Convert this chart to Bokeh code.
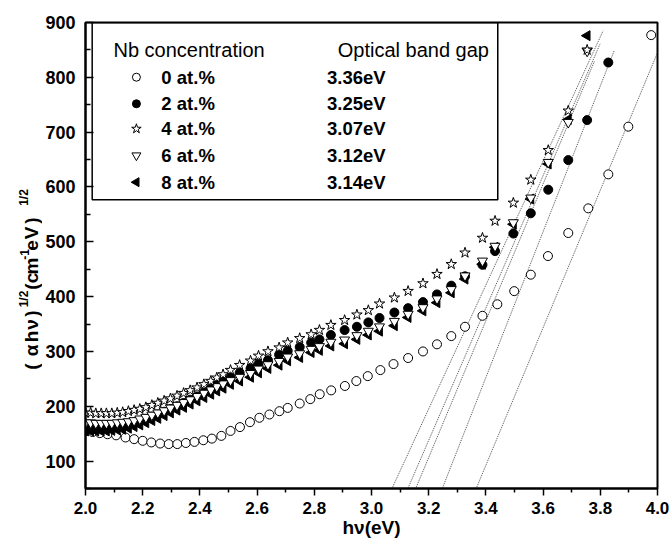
import numpy as np
from bokeh.plotting import figure
from bokeh.layouts import row
from bokeh.models import Range1d, FixedTicker, PrintfTickFormatter, Label, BoxAnnotation
from bokeh.embed import file_html
from bokeh.resources import INLINE

# ---------------- data ----------------
x_0at = [2.000, 2.025, 2.050, 2.077, 2.107, 2.140, 2.170, 2.200, 2.230, 2.261,
         2.291, 2.321, 2.351, 2.381, 2.412, 2.442, 2.475, 2.507, 2.540, 2.575,
         2.608, 2.643, 2.678, 2.707, 2.749, 2.786, 2.819, 2.859, 2.907, 2.947,
         2.987, 3.031, 3.077, 3.128, 3.180, 3.229, 3.279, 3.327, 3.388, 3.440,
         3.499, 3.557, 3.617, 3.688, 3.758, 3.828, 3.898, 3.978]
y_0at = [155, 153, 151, 149, 147, 143, 140, 137, 134, 132,
         131, 131, 133, 135, 138, 141, 146, 155, 162, 171,
         179, 185, 191, 197, 205, 213, 222, 229, 237, 246,
         255, 266, 277, 288, 300, 313, 328, 345, 365, 386,
         410, 440, 474, 516, 561, 623, 710, 877]

x_low = [2.000, 2.018, 2.036, 2.055, 2.073, 2.092, 2.111, 2.130, 2.150, 2.170,
         2.190, 2.211, 2.232, 2.253, 2.275, 2.297, 2.320, 2.343, 2.366, 2.390,
         2.414, 2.438, 2.459]
x_high = [2.481, 2.507, 2.539, 2.577, 2.605, 2.638, 2.677, 2.707, 2.749, 2.789,
          2.818, 2.858, 2.906, 2.949, 2.989, 3.028, 3.080, 3.128, 3.180, 3.229,
          3.279, 3.327, 3.388, 3.432, 3.496, 3.557, 3.618, 3.688, 3.754]

x_2at = x_low + x_high + [3.828]
y_2at = [163, 163, 162, 162, 162, 163, 164, 165, 167, 170,
         173, 177, 181, 185, 190, 195, 200, 206, 212, 218,
         225, 232, 239,
         246, 253, 261, 269, 277, 284, 294, 301, 308, 316,
         322, 330, 339, 345, 353, 361, 371, 379, 390, 404,
         420, 437, 458, 483, 515, 552, 595, 649, 722, 827]

x_4at = x_low + x_high
y_4at = [188, 188, 187, 187, 187, 187, 188, 189, 191, 193,
         195, 198, 202, 206, 210, 214, 219, 224, 229, 234,
         240, 246, 252,
         258, 266, 275, 283, 292, 300, 307, 316, 324, 331,
         339, 348, 357, 367, 375, 387, 398, 410, 424, 441,
         459, 480, 507, 538, 571, 613, 667, 739, 850]

x_6at = x_low + x_high
y_6at = [170, 170, 169, 169, 169, 169, 170, 171, 172, 174,
         177, 180, 184, 188, 192, 197, 202, 207, 212, 218,
         224, 230, 236,
         241, 247, 253, 260, 268, 276, 282, 290, 296, 304,
         309, 317, 321, 329, 337, 345, 355, 368, 380, 396,
         413, 438, 465, 492, 535, 580, 645, 718, 848]

x_8at = x_low + x_high
y_8at = [155, 155, 155, 155, 155, 156, 157, 158, 160, 163,
         166, 170, 174, 178, 183, 188, 193, 198, 204, 210,
         216, 222, 228,
         233, 240, 246, 253, 261, 269, 275, 283, 289, 298,
         302, 310, 314, 322, 330, 337, 347, 362, 374, 389,
         407, 432, 459, 490, 532, 578, 642, 723, 876]

# linear-fit extrapolation lines (start / end points)
fit_x0 = [3.054, 3.109, 3.141, 3.231, 3.347]
fit_y0 = [30, 28, 33, 28, 26]
fit_x1 = [3.810, 3.800, 3.780, 3.848, 4.000]
fit_y1 = [885, 862, 830, 848, 845]

conc_labels = ["0 at.%", "2 at.%", "4 at.%", "6 at.%", "8 at.%"]
gap_labels = ["3.36eV", "3.25eV", "3.07eV", "3.12eV", "3.14eV"]

x_ticks = [2.0, 2.2, 2.4, 2.6, 2.8, 3.0, 3.2, 3.4, 3.6, 3.8, 4.0]
y_ticks = [100, 200, 300, 400, 500, 600, 700, 800, 900]

x_title = "h\u03bd(eV)"
# y title pieces: (text, is_superscript, centre position along the axis in page px)
y_title = [("(", False, 366), ("\u03b1", False, 350), ("h", False, 336),
           ("\u03bd", False, 324), (")", False, 313), ("1/2", True, 298.5),
           ("(", False, 286), ("c", False, 277.5), ("m", False, 265.5),
           ("-1", True, 254), ("e", False, 245), ("V", False, 232.5),
           (")", False, 220), ("1/2", True, 197)]

# ---------------- layout helpers ----------------
XMIN, XMAX, YMIN, YMAX = 2.0, 4.0, 50, 900
FL, FR, FT, FB = 84.0, 657.0, 22.0, 488.0   # frame edges in page pixels
W, H = 672, 542
YSTRIP_W = 42            # strip holding the rotated y title


def px_x(px):
    return XMIN + (px - FL) * (XMAX - XMIN) / (FR - FL)


def px_y(py):
    return YMAX - (py - FT) * (YMAX - YMIN) / (FB - FT)


FONT = "Liberation Sans"

p = figure(width=W - YSTRIP_W, height=H, x_range=Range1d(XMIN, XMAX),
           y_range=Range1d(YMIN, YMAX), output_backend="svg", title=None,
           toolbar_location=None, min_border_left=int(FL) - YSTRIP_W,
           min_border_right=W - int(FR), min_border_top=int(FT),
           min_border_bottom=H - int(FB))
p.xgrid.visible = False
p.ygrid.visible = False
p.outline_line_color = "black"
p.outline_line_width = 2
p.background_fill_color = "white"
p.border_fill_color = "white"

# axes
p.xaxis.ticker = FixedTicker(ticks=x_ticks,
                             minor_ticks=[round(t + 0.1, 1) for t in x_ticks[:-1]])
p.yaxis.ticker = FixedTicker(ticks=y_ticks,
                             minor_ticks=[t - 50 for t in y_ticks])
p.xaxis.formatter = PrintfTickFormatter(format="%.1f")
p.yaxis.formatter = PrintfTickFormatter(format="%d")
for ax in (p.xaxis[0], p.yaxis[0]):
    ax.axis_line_width = 2
    ax.axis_line_color = "black"
    ax.major_tick_line_width = 1.5
    ax.minor_tick_line_width = 1.5
    ax.major_tick_line_color = "black"
    ax.minor_tick_line_color = "black"
    ax.major_label_text_font = FONT
    ax.major_label_text_font_style = "bold"
    ax.major_label_text_color = "black"
p.xaxis.major_tick_out = 7
p.xaxis.major_tick_in = 0
p.xaxis.minor_tick_out = 4
p.xaxis.minor_tick_in = 0
p.xaxis.major_label_standoff = 6
p.xaxis.major_label_text_font_size = "17px"
p.xaxis.axis_label = x_title
p.xaxis.axis_label_text_font = FONT
p.xaxis.axis_label_text_font_size = "19px"
p.xaxis.axis_label_text_font_style = "bold"
p.xaxis.axis_label_text_color = "black"
p.xaxis.axis_label_standoff = 0
p.yaxis.major_tick_out = 0
p.yaxis.major_tick_in = 8
p.yaxis.minor_tick_out = 0
p.yaxis.minor_tick_in = 5
p.yaxis.major_label_standoff = 10
p.yaxis.major_label_text_font_size = "18px"

# fit lines
p.segment(x0=fit_x0, y0=fit_y0, x1=fit_x1, y1=fit_y1, line_color="#222222",
          line_width=0.8, line_dash="1 1")

# data series
styles = {
    "0": dict(marker="circle", size=9, fill_color="white", angle=0.0),
    "2": dict(marker="circle", size=9, fill_color="black", angle=0.0),
    "4": dict(marker="star", size=11, fill_color="white", angle=0.0),
    "6": dict(marker="inverted_triangle", size=10, fill_color="white", angle=0.0),
    "8": dict(marker="triangle", size=10, fill_color="black", angle=np.pi / 2),
}
series = {"0": (x_0at, y_0at), "2": (x_2at, y_2at), "8": (x_8at, y_8at),
          "6": (x_6at, y_6at), "4": (x_4at, y_4at)}
for key, (xs, ys) in series.items():
    st = styles[key]
    p.scatter(xs, ys, marker=st["marker"], size=st["size"], angle=st["angle"],
              fill_color=st["fill_color"], line_color="black", line_width=1)

# legend (drawn by hand: box, symbols, texts)
box = BoxAnnotation(left=px_x(90.7), right=px_x(497), top=YMAX,
                    bottom=px_y(199.3), fill_alpha=0, line_color="black",
                    line_width=1.5, line_alpha=1)
p.add_layout(box)

row_py = [76.7, 103.3, 128.3, 155.0, 181.7]
for key, py, lab, gap in zip(["0", "2", "4", "6", "8"], row_py, conc_labels, gap_labels):
    st = styles[key]
    p.scatter([px_x(135)], [px_y(py)], marker=st["marker"], size=st["size"] - 1,
              angle=st["angle"], fill_color=st["fill_color"], line_color="black",
              line_width=1)
    p.add_layout(Label(x=px_x(160), y=px_y(py), text=lab, text_font=FONT,
                       text_font_size="18.5px", text_font_style="bold",
                       text_baseline="middle", text_color="black"))
    p.add_layout(Label(x=px_x(326), y=px_y(py), text=gap, text_font=FONT,
                       text_font_size="18.5px", text_font_style="bold",
                       text_baseline="middle", text_color="black"))

p.add_layout(Label(x=px_x(112), y=px_y(49), text="Nb concentration",
                   text_font=FONT, text_font_size="20px",
                   text_baseline="middle", text_color="black"))
p.add_layout(Label(x=px_x(336.7), y=px_y(49), text="Optical band gap",
                   text_font=FONT, text_font_size="20px",
                   text_baseline="middle", text_color="black"))

# y axis title strip: same vertical frame as the main plot, so the same
# pixel -> value mapping holds (the min borders absorb any extra panels)
yfig = figure(width=YSTRIP_W, height=H, x_range=Range1d(0, YSTRIP_W),
              y_range=Range1d(YMIN, YMAX), output_backend="svg", title=None,
              toolbar_location=None, min_border_left=0, min_border_right=0,
              min_border_top=int(FT), min_border_bottom=H - int(FB),
              x_axis_type=None, y_axis_type=None)
yfig.outline_line_color = None
yfig.grid.visible = False
yfig.background_fill_color = "white"
yfig.border_fill_color = "white"
for txt, sup, py in y_title:
    yfig.add_layout(Label(x=23.8 if sup else 31.4, y=px_y(py), text=txt,
                          angle=np.pi / 2, text_font=FONT,
                          text_font_size="12px" if sup else "19px",
                          text_font_style="bold", text_align="center",
                          text_baseline="middle", text_color="black"))

layout = row(yfig, p)
open("out.html", "w").write(file_html(layout, INLINE))
